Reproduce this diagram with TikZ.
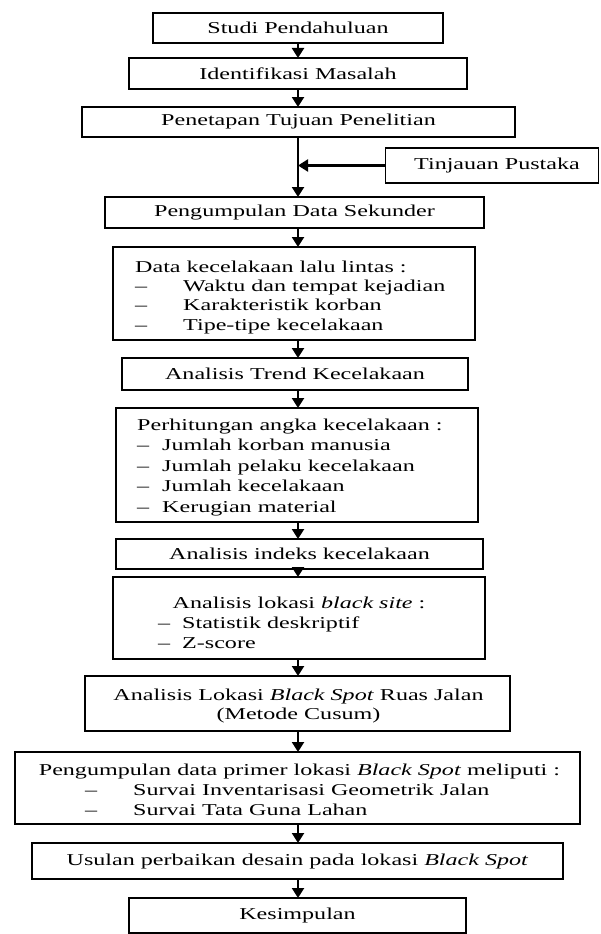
\documentclass[tikz,border=0pt]{standalone}
\usepackage{fontspec}
\setmainfont{Liberation Serif}[FakeStretch=1.45]
\usetikzlibrary{arrows.meta}
\tikzset{
  box/.style={draw, line width=1.5pt, rectangle, inner sep=0pt, outer sep=0pt},
  ltxt/.style={inner sep=0pt, anchor=base west},
  ctxt/.style={inner sep=0pt, anchor=base},
  arr/.style={line width=2.2pt, -{Triangle[width=12pt,length=10pt]}},
}
\newcommand{\dsh}[1]{\makebox[#1][l]{–}}
\begin{document}
\begin{tikzpicture}[x=1pt,y=-1pt,font=\fontsize{16.6}{19.5}\selectfont]
\useasboundingbox (0,0) rectangle (600,934);
\coordinate (sp) at (298,0);

\node[box, minimum width=290pt, minimum height=30pt] (b1) at (298,28) {Studi Pendahuluan};
\node[box, minimum width=338pt, minimum height=31pt] (b2) at (298,73.5) {Identifikasi Masalah};
\node[box, minimum width=433pt, minimum height=30pt] (b3) at (298.5,122) {Penetapan Tujuan Penelitian};
\node[box, minimum width=213pt, minimum height=35pt] (tp) at (492,165.5) {\hspace*{10pt}Tinjauan Pustaka};
\node[box, minimum width=379pt, minimum height=31pt] (b5) at (294.5,212.5) {Pengumpulan Data Sekunder};

\node[box, minimum width=362pt, minimum height=93pt] (b6) at (294,293.5) {};
\node[ltxt] (t6a) at (135,272) {Data kecelakaan lalu lintas :};
\node[ltxt] (t6b) at (135,291.3) {\dsh{48pt}Waktu dan tempat kejadian};
\node[ltxt] (t6c) at (135,310.6) {\dsh{48pt}Karakteristik korban};
\node[ltxt] (t6d) at (135,330) {\dsh{48pt}Tipe-tipe kecelakaan};

\node[box, minimum width=346pt, minimum height=32pt] (b7) at (295,374) {Analisis Trend Kecelakaan};

\node[box, minimum width=362pt, minimum height=114pt] (b8) at (297,465) {};
\node[ltxt] (t8a) at (137,430) {Perhitungan angka kecelakaan :};
\node[ltxt] (t8b) at (137,450.5) {\dsh{25pt}Jumlah korban manusia};
\node[ltxt] (t8c) at (137,471) {\dsh{25pt}Jumlah pelaku kecelakaan};
\node[ltxt] (t8d) at (137,491.5) {\dsh{25pt}Jumlah kecelakaan};
\node[ltxt] (t8e) at (137,512) {\dsh{25pt}Kerugian material};

\node[box, minimum width=367pt, minimum height=30pt] (b9) at (299.5,554) {Analisis indeks kecelakaan};

\node[box, minimum width=372pt, minimum height=82pt] (b10) at (299,618) {};
\node[ctxt] (t10a) at (299,608) {Analisis lokasi \textit{black site} :};
\node[ltxt] (t10b) at (158,628) {\dsh{24pt}Statistik deskriptif};
\node[ltxt] (t10c) at (158,648.5) {\dsh{24pt}Z-score};

\node[box, minimum width=425pt, minimum height=55pt] (b11) at (297.5,703.5) {};
\node[ctxt] (t11a) at (298.5,700) {Analisis Lokasi \textit{Black Spot} Ruas Jalan};
\node[ctxt] (t11b) at (298.5,719.5) {(Metode Cusum)};

\node[box, minimum width=565pt, minimum height=72pt] (b12) at (297.5,788) {};
\node[ctxt] (t12a) at (299.5,775) {Pengumpulan data primer lokasi \textit{Black Spot} meliputi :};
\node[ltxt] (t12b) at (85,795) {\dsh{48pt}Survai Inventarisasi Geometrik Jalan};
\node[ltxt] (t12c) at (85,815) {\dsh{48pt}Survai Tata Guna Lahan};

\node[box, minimum width=531pt, minimum height=36pt] (b13) at (297.5,861) {Usulan perbaikan desain pada lokasi \textit{Black Spot}};
\node[box, minimum width=337pt, minimum height=35pt] (b14) at (297.5,915.5) {Kesimpulan};

\draw[arr] (b1.south -| sp) -- (b2.north -| sp);
\draw[arr] (b2.south -| sp) -- (b3.north -| sp);
\draw[arr] (b3.south -| sp) -- (b5.north -| sp);
\draw[arr] (tp.west) -- (tp.west -| sp);
\draw[arr] (b5.south -| sp) -- (b6.north -| sp);
\draw[arr] (b6.south -| sp) -- (b7.north -| sp);
\draw[arr] (b7.south -| sp) -- (b8.north -| sp);
\draw[arr] (b8.south -| sp) -- (b9.north -| sp);
\draw[arr] (b9.south -| sp) -- (b10.north -| sp);
\draw[arr] (b10.south -| sp) -- (b11.north -| sp);
\draw[arr] (b11.south -| sp) -- (b12.north -| sp);
\draw[arr] (b12.south -| sp) -- (b13.north -| sp);
\draw[arr] (b13.south -| sp) -- (b14.north -| sp);
\end{tikzpicture}
\end{document}
